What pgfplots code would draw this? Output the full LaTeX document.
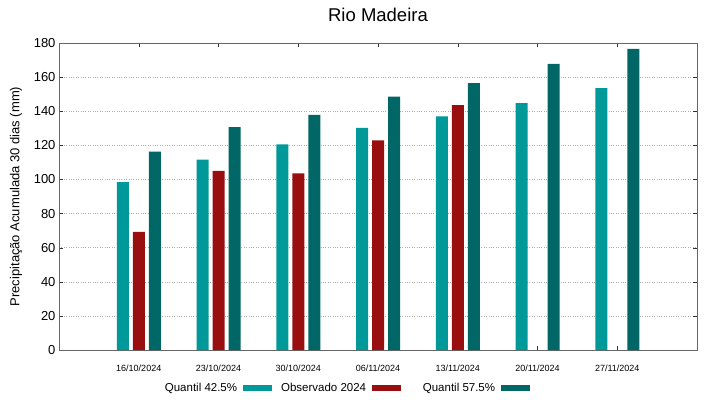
\documentclass[border=0pt]{standalone}
\usepackage{pgfplots}
\pgfplotsset{compat=1.18}
\usepackage{fontspec}
\setmainfont{Liberation Sans}
\definecolor{qlow}{HTML}{009999}
\definecolor{obs}{HTML}{990F0F}
\definecolor{qhigh}{HTML}{006666}
\pgfplotsset{mylegend/.style={legend image code/.code={\fill[##1,draw=none] (0pt,-3pt) rectangle (29pt,3pt);}}}
\begin{document}
\begin{tikzpicture}
\begin{axis}[
  name=ax,
  scale only axis, width=638pt, height=307pt,
  xmin=-1, xmax=7, ymin=0, ymax=180,
  ytick={0,20,...,180},
  xtick={0,1,2,3,4,5,6},
  xticklabels={16/10/2024,23/10/2024,30/10/2024,06/11/2024,13/11/2024,20/11/2024,27/11/2024},
  ybar=4pt, bar width=12pt,
  ymajorgrids, grid style={dotted, gray!65, line width=0.5pt},
  tick align=inside, major tick length=4pt,
  tick style={black!80},
  axis line style={black!60, line width=0.8pt},
  /pgf/number format/assume math mode=true,
  x tick label style={font=\fontsize{9}{10}\selectfont, yshift=-11pt},
  y tick label style={font=\fontsize{13}{15}\selectfont},
  ylabel={Precipitação Acumulada 30 dias (mm)},
  ylabel style={font=\fontsize{13}{15}\selectfont, at={(rel axis cs:0,0.5)}, anchor=center, yshift=43pt},
  title={Rio Madeira},
  title style={font=\fontsize{18.5}{20}\selectfont, at={(rel axis cs:0.5,1)}, anchor=base, inner sep=0pt, yshift=15pt},
  legend columns=3, legend plot pos=right,
  legend style={draw=none, fill=none, at={(0.443,-0.124)}, anchor=center,
    inner sep=0pt, nodes={inner sep=0pt},
    font=\fontsize{11.5}{13}\selectfont,
    /tikz/every odd column/.append style={column sep=6pt},
    /tikz/every even column/.append style={column sep=10pt}},
]
\addplot[fill=qlow, draw=none, mylegend] coordinates {(0,98.5) (1,111.6) (2,120.6) (3,130.2) (4,137) (5,144.8) (6,153.6)};
\addlegendentry{\makebox[84pt][r]{Quantil 42.5\%}}
\addplot[fill=obs, draw=none, mylegend] coordinates {(0,69.2) (1,105) (2,103.6) (3,122.9) (4,143.6)};
\addlegendentry{\makebox[84pt][r]{Observado 2024}}
\addplot[fill=qhigh, draw=none, mylegend] coordinates {(0,116.3) (1,130.7) (2,137.8) (3,148.5) (4,156.5) (5,167.7) (6,176.5)};
\addlegendentry{\makebox[84pt][r]{Quantil 57.5\%}}
\end{axis}
\path ([xshift=-59pt,yshift=-49pt]ax.south west) rectangle ([xshift=22pt,yshift=43pt]ax.north east);
\end{tikzpicture}
\end{document}
